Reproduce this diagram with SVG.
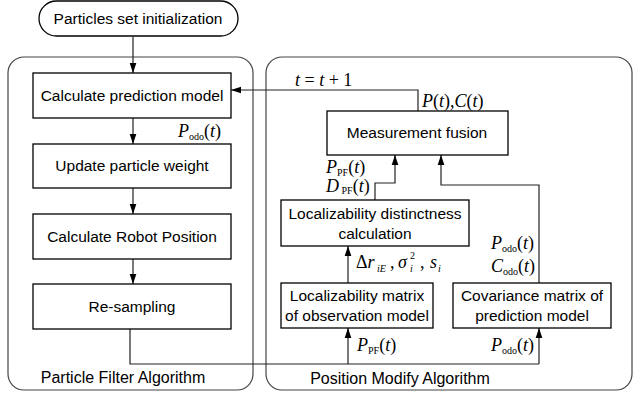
<svg xmlns="http://www.w3.org/2000/svg" width="635" height="394" viewBox="0 0 635 394">
<defs>
<marker id="ah" markerWidth="10" markerHeight="12" viewBox="0 0 12 10" refX="12" refY="5" orient="auto" markerUnits="userSpaceOnUse">
<path d="M0,1 L12,5 L0,9 Z" fill="#000"/>
</marker>
</defs>
<style>
.box{fill:#fff;stroke:#000;stroke-width:1.3}
.cont{fill:none;stroke:#444;stroke-width:1.2}
.lbl{font-family:"Liberation Sans",Arial,sans-serif;font-size:15.5px;fill:#000;text-anchor:middle}
.clbl{font-family:"Liberation Sans",Arial,sans-serif;font-size:16px;fill:#000;text-anchor:middle}
.m{font-family:"Liberation Serif","Times New Roman",serif;font-size:18px;fill:#000}
.i{font-style:italic}
.s{font-size:10px;font-style:normal}
.si{font-size:10px;font-style:italic}
.c{fill:none;stroke:#222;stroke-width:1.2}
.ca{fill:none;stroke:#222;stroke-width:1.2;marker-end:url(#ah)}
</style>
<g id="containers">
<rect class="cont" x="8" y="57" width="245" height="333" rx="16"/>
<rect class="cont" x="266" y="57" width="366" height="333" rx="16"/>
<text class="clbl" x="123" y="383">Particle Filter Algorithm</text>
<text class="clbl" x="400" y="384">Position Modify Algorithm</text>
</g>
<g id="connectors">
<path class="ca" d="M133,37 V73"/>
<path class="ca" d="M133,118 V144"/>
<path class="ca" d="M133,188 V214"/>
<path class="ca" d="M133,259 V284"/>
<path class="c" d="M130,329 V364 H539"/>
<path class="ca" d="M348,364 V328"/>
<path class="ca" d="M539,364 V328"/>
<path class="ca" d="M348,283 V246"/>
<path class="ca" d="M375,200 V183 H395 V155"/>
<path class="ca" d="M539,283 V185 H441 V155"/>
<path class="ca" d="M418,111 V90 H231"/>
</g>
<g id="n-start">
<rect class="box" x="39" y="1" width="199" height="35" rx="17.5"/>
<text class="lbl" x="138" y="24">Particles set initialization</text>
</g>
<g id="n-predict">
<rect class="box" x="33" y="73" width="198" height="45"/>
<text class="lbl" x="132" y="101">Calculate prediction model</text>
</g>
<g id="n-weight">
<rect class="box" x="33" y="144" width="198" height="44"/>
<text class="lbl" x="132" y="171">Update particle weight</text>
</g>
<g id="n-robot">
<rect class="box" x="33" y="214" width="198" height="45"/>
<text class="lbl" x="132" y="242">Calculate Robot Position</text>
</g>
<g id="n-resample">
<rect class="box" x="33" y="284" width="198" height="45"/>
<text class="lbl" x="132" y="312">Re-sampling</text>
</g>
<g id="n-fusion">
<rect class="box" x="327" y="111" width="181" height="44"/>
<text class="lbl" x="417" y="138">Measurement  fusion</text>
</g>
<g id="n-distinct">
<rect class="box" x="281" y="200" width="188" height="46"/>
<text class="lbl" x="375" y="219">Localizability distinctness</text>
<text class="lbl" x="375" y="239">calculation</text>
</g>
<g id="n-locmatrix">
<rect class="box" x="281" y="283" width="152" height="45"/>
<text class="lbl" x="357" y="301">Localizability matrix</text>
<text class="lbl" x="357" y="321">of observation model</text>
</g>
<g id="n-cov">
<rect class="box" x="453" y="283" width="158" height="45"/>
<text class="lbl" x="532" y="301">Covariance matrix of</text>
<text class="lbl" x="532" y="321">prediction model</text>
</g>
<g id="labels">
<text class="m" x="178" y="137"><tspan class="i">P</tspan><tspan class="s" dy="3">odo</tspan><tspan dy="-3">(</tspan><tspan class="i">t</tspan>)</text>
<text class="m" x="295" y="86"><tspan class="i">t</tspan> = <tspan class="i">t</tspan> + 1</text>
<text class="m" x="422" y="107" font-size="17"><tspan class="i">P</tspan>(<tspan class="i">t</tspan>),<tspan class="i">C</tspan>(<tspan class="i">t</tspan>)</text>
<text class="m" x="326" y="173"><tspan class="i">P</tspan><tspan class="s" dy="3">PF</tspan><tspan dy="-3">(</tspan><tspan class="i">t</tspan>)</text>
<text class="m" x="326" y="192" font-size="16"><tspan class="i">D</tspan><tspan class="s" dy="2"> PF</tspan><tspan dy="-2">(</tspan><tspan class="i">t</tspan>)</text>
<text class="m" x="356" y="268">Δ<tspan class="i">r</tspan></text>
<text class="m si" x="377" y="272">iE</text>
<text class="m" x="390" y="268">,</text>
<text class="m i" x="398" y="268">σ</text>
<text class="m s" x="410" y="259">2</text>
<text class="m si" x="410" y="272">i</text>
<text class="m" x="420" y="268">,</text>
<text class="m i" x="430" y="268">s</text>
<text class="m si" x="438" y="272">i</text>
<text class="m" x="491" y="249"><tspan class="i">P</tspan><tspan class="s" dy="3">odo</tspan><tspan dy="-3">(</tspan><tspan class="i">t</tspan>)</text>
<text class="m" x="491" y="272"><tspan class="i">C</tspan><tspan class="s" dy="3">odo</tspan><tspan dy="-3">(</tspan><tspan class="i">t</tspan>)</text>
<text class="m" x="357" y="351"><tspan class="i">P</tspan><tspan class="s" dy="3">PF</tspan><tspan dy="-3">(</tspan><tspan class="i">t</tspan>)</text>
<text class="m" x="491" y="351"><tspan class="i">P</tspan><tspan class="s" dy="3">odo</tspan><tspan dy="-3">(</tspan><tspan class="i">t</tspan>)</text>
</g>
</svg>
